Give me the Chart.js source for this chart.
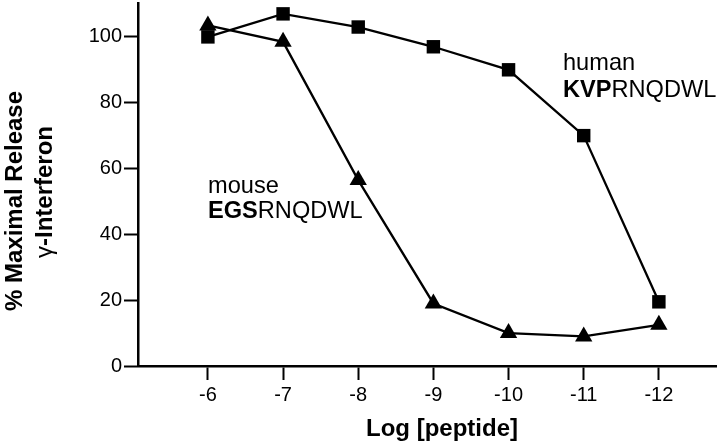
<!DOCTYPE html>
<html>
<head>
<meta charset="utf-8">
<script src="https://cdn.jsdelivr.net/npm/chart.js@4/dist/chart.umd.min.js"></script>
<style>
  html, body { margin: 0; padding: 0; background: #fff; }
  #wrap { width: 720px; height: 446px; }
</style>
</head>
<body>
<div id="wrap"><canvas id="myChart" width="720" height="446"></canvas></div>
<script>
"use strict";

// log [peptide] doses
const doses = [-6, -7, -8, -9, -10, -11, -12];
const humanVals = [100, 107, 103, 97, 90, 70, 19.5];
const mouseVals = [103.5, 98.5, 56.5, 19, 10, 9, 12.5];
const xTicks = [-6, -7, -8, -9, -10, -11, -12];
const yTicks = [0, 20, 40, 60, 80, 100];

const FONT = "'Liberation Sans', Arial, Helvetica, sans-serif";

function toPoints(vals) {
  let pts = [];
  for (let i = 0; i < doses.length; i++) {
    pts.push({ x: doses[i], y: vals[i] });
  }
  return pts;
}

// draw a line of text made of runs with different weight
function drawRuns(ctx, runs, x, y, size) {
  let cx = x;
  for (let r of runs) {
    ctx.font = (r.bold ? "bold " : "") + size + "px " + FONT;
    ctx.fillText(r.text, cx, y);
    cx += ctx.measureText(r.text).width;
  }
}

const labelsPlugin = {
  id: "labels",
  afterDraw(chart) {
    const ctx = chart.ctx;
    ctx.save();
    ctx.fillStyle = "#000";
    ctx.textBaseline = "alphabetic";
    ctx.textAlign = "left";

    drawRuns(ctx, [{ text: "mouse" }], 208, 193, 23.6);
    drawRuns(ctx, [{ text: "EGS", bold: true }, { text: "RNQDWL" }], 208, 218, 23.6);
    drawRuns(ctx, [{ text: "human" }], 563, 70, 23.6);
    drawRuns(ctx, [{ text: "KVP", bold: true }, { text: "RNQDWL" }], 563, 97, 23.6);

    // x axis title
    ctx.textAlign = "center";
    ctx.font = "bold 24px " + FONT;
    ctx.fillText("Log [peptide]", 442, 436);

    // y axis title, two lines
    ctx.save();
    ctx.translate(22, 201);
    ctx.rotate(-Math.PI / 2);
    ctx.font = "bold 24px " + FONT;
    ctx.fillText("% Maximal Release", 0, 0);
    ctx.restore();

    ctx.save();
    ctx.translate(52, 192);
    ctx.rotate(-Math.PI / 2);
    ctx.textAlign = "left";
    ctx.font = "24px " + FONT;
    let gw = ctx.measureText("\u03b3").width;
    ctx.font = "bold 24px " + FONT;
    let rw = ctx.measureText("-Interferon").width;
    let sx = -(gw + rw) / 2;
    ctx.font = "24px " + FONT;
    ctx.fillText("\u03b3", sx, 0);
    ctx.font = "bold 24px " + FONT;
    ctx.fillText("-Interferon", sx + gw, 0);
    ctx.restore();

    ctx.restore();
  }
};

const ctx = document.getElementById("myChart").getContext("2d");

const myChart = new Chart(ctx, {
  type: "line",
  data: {
    datasets: [
      {
        label: "human KVPRNQDWL",
        data: toPoints(humanVals),
        borderColor: "#000",
        backgroundColor: "#000",
        borderWidth: 2.3,
        pointStyle: "rect",
        pointRadius: 9.5,
        pointBorderWidth: 0,
        tension: 0,
        clip: false
      },
      {
        label: "mouse EGSRNQDWL",
        data: toPoints(mouseVals),
        borderColor: "#000",
        backgroundColor: "#000",
        borderWidth: 2.3,
        pointStyle: "triangle",
        pointRadius: 10,
        pointBorderWidth: 0,
        tension: 0,
        clip: false
      }
    ]
  },
  options: {
    responsive: false,
    animation: false,
    events: [],
    layout: { autoPadding: false, padding: { left: 0, right: 4, top: 3, bottom: 0 } },
    plugins: {
      legend: { display: false },
      tooltip: { enabled: false }
    },
    scales: {
      x: {
        type: "linear",
        reverse: true,
        min: -12.76,
        max: -5.07,
        afterBuildTicks: function (scale) {
          scale.ticks = xTicks.map(v => ({ value: v }));
        },
        afterFit: function (scale) {
          scale.height = 80;
          scale.paddingLeft = 0;
          scale.paddingRight = 0;
        },
        ticks: {
          color: "#000",
          font: { family: FONT, size: 20 },
          padding: 3,
          maxRotation: 0,
          callback: v => String(v)
        },
        grid: {
          display: true,
          drawOnChartArea: false,
          drawTicks: true,
          tickLength: 14,
          tickWidth: 2,
          tickColor: "#000"
        },
        border: { display: true, color: "#000", width: 2.5 }
      },
      y: {
        min: 0,
        max: 110.3,
        afterBuildTicks: function (scale) {
          scale.ticks = yTicks.map(v => ({ value: v }));
        },
        afterFit: function (scale) {
          scale.width = 138;
          scale.paddingTop = 0;
          scale.paddingBottom = 0;
        },
        ticks: {
          color: "#000",
          font: { family: FONT, size: 20 },
          padding: 2
        },
        grid: {
          display: true,
          drawOnChartArea: false,
          drawTicks: true,
          tickLength: 14,
          tickWidth: 2,
          tickColor: "#000"
        },
        border: { display: true, color: "#000", width: 2.5 }
      }
    }
  },
  plugins: [labelsPlugin]
});
</script>
</body>
</html>
